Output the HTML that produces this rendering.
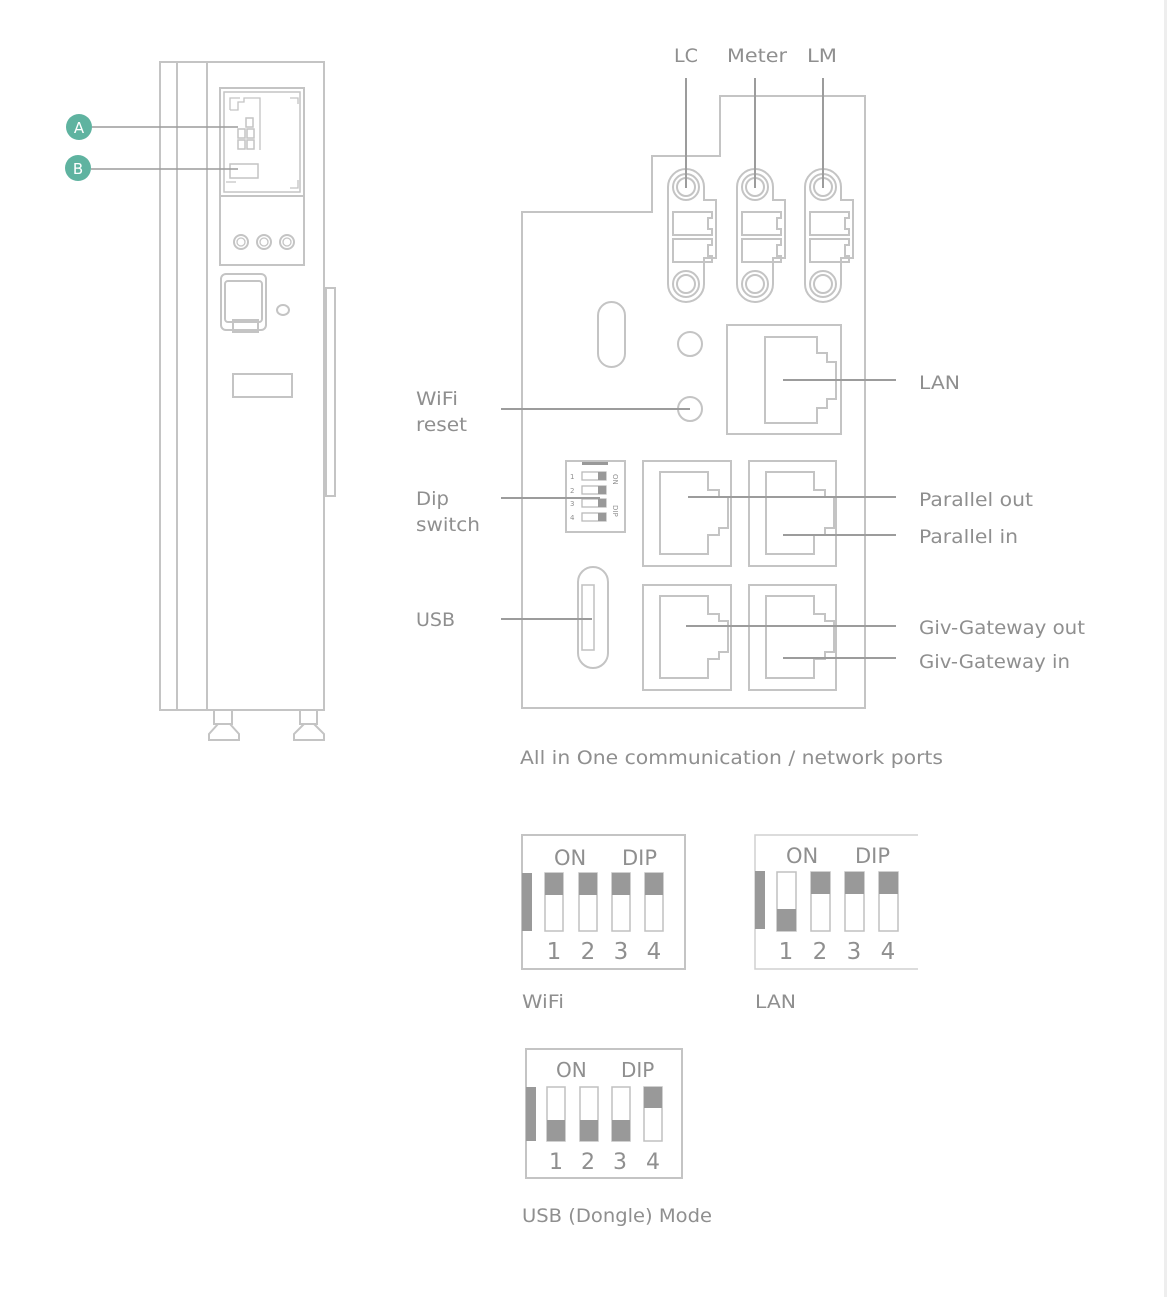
<!DOCTYPE html>
<html><head><meta charset="utf-8"><style>
html,body{margin:0;padding:0;background:#fff}
svg{display:block}
text{font-family:"DejaVu Sans","Liberation Sans",sans-serif;fill:#8f8f8f}
</style></head><body>
<svg width="1167" height="1297" viewBox="0 0 1167 1297" xmlns="http://www.w3.org/2000/svg">
<rect x="1164" y="0" width="3" height="1297" fill="#eeeeee"/>
<defs>
<path id="rj" d="M0,0 H48 V18 H59 V25 H68 V56 H59 V63 H48 V82 H0 Z"/>
</defs>
<g fill="none" stroke="#c4c4c4" stroke-width="2">
<rect x="160" y="62" width="164" height="648"/>
<line x1="177" y1="62" x2="177" y2="710"/>
<line x1="207" y1="62" x2="207" y2="710"/>
<rect x="220" y="88" width="84" height="108"/>
<rect x="224" y="92" width="76" height="100" stroke-width="1.5"/>
<path d="M230,110 V98 H240 M230,110 H238 V102 H244 V98 H260 V150" stroke-width="1.3"/>
<rect x="246" y="118" width="7" height="9" stroke-width="1.5"/>
<rect x="238" y="129" width="7" height="9" stroke-width="1.5"/>
<rect x="247" y="129" width="7" height="9" stroke-width="1.5"/>
<rect x="238" y="140" width="7" height="9" stroke-width="1.5"/>
<rect x="247" y="140" width="7" height="9" stroke-width="1.5"/>
<rect x="230" y="164" width="28" height="14" stroke-width="1.5"/>
<path d="M290,98 H298 V104 M290,188 H298 V180 M226,182 H236" stroke-width="1.3"/>
<rect x="220" y="196" width="84" height="69"/>
<circle cx="241" cy="242" r="7"/><circle cx="241" cy="242" r="4" stroke-width="1.3"/>
<circle cx="264" cy="242" r="7"/><circle cx="264" cy="242" r="4" stroke-width="1.3"/>
<circle cx="287" cy="242" r="7"/><circle cx="287" cy="242" r="4" stroke-width="1.3"/>
<rect x="221" y="274" width="45" height="56" rx="5"/>
<rect x="225" y="281" width="37" height="41" rx="3"/>
<rect x="233" y="320" width="25" height="12"/>
<ellipse cx="283" cy="310" rx="6" ry="5"/>
<rect x="233" y="374" width="59" height="23"/>
<rect x="326" y="288" width="9" height="208"/>
<path d="M214,710 V724 H232 V710 M218,724 L209,734 V740 H239 V734 L230,724"/>
<path d="M300,710 V724 H317 V710 M304,724 L294,734 V740 H324 V734 L314,724"/>
<path d="M522,212 H652 V156 H720 V96 H865 V708 H522 Z"/>
</g>
<g fill="none" stroke="#c4c4c4" stroke-width="2">
<g id="tb">
<path d="M668,187 A18,18 0 0 1 704,187 V200 H716 V258 H704 V284 A18,18 0 0 1 668,284 Z"/>
<circle cx="686" cy="187" r="13"/><circle cx="686" cy="187" r="9"/>
<circle cx="686" cy="284" r="13"/><circle cx="686" cy="284" r="9"/>
<path d="M673,212 H712 V218 H708 V229 H712 V235 H673 Z"/>
<path d="M673,239 H712 V245 H708 V256 H712 V262 H673 Z"/>
</g>
<use href="#tb" transform="translate(69,0)"/>
<use href="#tb" transform="translate(137,0)"/>
<rect x="598" y="302" width="27" height="65" rx="13.5"/>
<circle cx="690" cy="344" r="12"/>
<circle cx="690" cy="409" r="12"/>
<rect x="727" y="325" width="114" height="109"/>
<path d="M765,337 H817 V353 H827 V362 H836 V399 H827 V408 H817 V423 H765 Z"/>
<rect x="566" y="461" width="59" height="71"/>
<rect x="643" y="461" width="88" height="105"/>
<rect x="749" y="461" width="87" height="105"/>
<rect x="643" y="585" width="88" height="105"/>
<rect x="749" y="585" width="87" height="105"/>
<use href="#rj" x="660" y="472"/>
<use href="#rj" x="766" y="472"/>
<use href="#rj" x="660" y="596"/>
<use href="#rj" x="766" y="596"/>
<rect x="578" y="567" width="30" height="101" rx="15"/>
<rect x="582" y="585" width="12" height="65" stroke-width="1.6"/>
</g>
<g stroke="#bbb" stroke-width="1.3" fill="none">
<rect x="582" y="472" width="24" height="8"/><rect x="582" y="486" width="24" height="8"/>
<rect x="582" y="499" width="24" height="8"/><rect x="582" y="513" width="24" height="8"/>
</g>
<g fill="#999">
<rect x="582" y="462" width="26" height="3"/>
<rect x="598" y="472" width="8" height="8"/><rect x="598" y="486" width="8" height="8"/>
<rect x="598" y="499" width="8" height="8"/><rect x="598" y="513" width="8" height="8"/>
</g>
<g>
<text x="570" y="479" style="font-size:7px">1</text><text x="570" y="493" style="font-size:7px">2</text>
<text x="570" y="506" style="font-size:7px">3</text><text x="570" y="520" style="font-size:7px">4</text>
<text x="613" y="474" transform="rotate(90 613 474)" style="font-size:7px">ON</text>
<text x="613" y="505" transform="rotate(90 613 505)" style="font-size:7px">DIP</text>
</g>
<g stroke="#9c9c9c" stroke-width="2">
<line x1="92" y1="127" x2="238" y2="127" stroke-width="1.5"/>
<line x1="91" y1="169" x2="238" y2="169" stroke-width="1.5"/>
<line x1="686" y1="78" x2="686" y2="188"/>
<line x1="755" y1="78" x2="755" y2="188"/>
<line x1="823" y1="78" x2="823" y2="188"/>
<line x1="783" y1="380" x2="896" y2="380"/>
<line x1="501" y1="409" x2="690" y2="409"/>
<line x1="501" y1="498" x2="600" y2="498"/>
<line x1="688" y1="497" x2="896" y2="497"/>
<line x1="783" y1="535" x2="896" y2="535"/>
<line x1="501" y1="619" x2="592" y2="619"/>
<line x1="686" y1="626" x2="896" y2="626"/>
<line x1="783" y1="658" x2="896" y2="658"/>
</g>
<circle cx="79" cy="127" r="13" fill="#5fb3a0"/>
<circle cx="78" cy="168" r="13" fill="#5fb3a0"/>
<text x="79" y="133" text-anchor="middle" style="fill:#fff;font-size:15px">A</text>
<text x="78" y="174" text-anchor="middle" style="fill:#fff;font-size:15px">B</text>
<g style="font-size:19px">
<text x="674" y="62" style="font-size:19px" textLength="24" lengthAdjust="spacingAndGlyphs">LC</text>
<text x="727" y="62" style="font-size:19px" textLength="60" lengthAdjust="spacingAndGlyphs">Meter</text>
<text x="807" y="62" style="font-size:19px" textLength="30" lengthAdjust="spacingAndGlyphs">LM</text>
<text x="416" y="405" style="font-size:19px" textLength="42" lengthAdjust="spacingAndGlyphs">WiFi</text>
<text x="416" y="431" style="font-size:19px" textLength="51" lengthAdjust="spacingAndGlyphs">reset</text>
<text x="416" y="505" style="font-size:19px" textLength="33" lengthAdjust="spacingAndGlyphs">Dip</text>
<text x="416" y="531" style="font-size:19px" textLength="64" lengthAdjust="spacingAndGlyphs">switch</text>
<text x="416" y="626" style="font-size:19px" textLength="39" lengthAdjust="spacingAndGlyphs">USB</text>
<text x="919" y="389" style="font-size:19px" textLength="41" lengthAdjust="spacingAndGlyphs">LAN</text>
<text x="919" y="506" style="font-size:19px" textLength="114" lengthAdjust="spacingAndGlyphs">Parallel out</text>
<text x="919" y="543" style="font-size:19px" textLength="99" lengthAdjust="spacingAndGlyphs">Parallel in</text>
<text x="919" y="634" style="font-size:19px" textLength="166" lengthAdjust="spacingAndGlyphs">Giv-Gateway out</text>
<text x="919" y="668" style="font-size:19px" textLength="151" lengthAdjust="spacingAndGlyphs">Giv-Gateway in</text>
<text x="520" y="764" style="font-size:19px" textLength="423" lengthAdjust="spacingAndGlyphs">All in One communication / network ports</text>
<text x="522" y="1008" style="font-size:19px" textLength="42" lengthAdjust="spacingAndGlyphs">WiFi</text>
<text x="755" y="1008" style="font-size:19px" textLength="41" lengthAdjust="spacingAndGlyphs">LAN</text>
<text x="522" y="1222" style="font-size:19px" textLength="190" lengthAdjust="spacingAndGlyphs">USB (Dongle) Mode</text>
</g>
<g>
<rect x="522" y="835" width="163" height="134" fill="none" stroke="#c4c4c4" stroke-width="2"/>
<rect x="522" y="873" width="10" height="58" fill="#999"/>
<g fill="#fff" stroke="#c0c0c0" stroke-width="1.5">
<rect x="545" y="873" width="18" height="58"/><rect x="579" y="873" width="18" height="58"/>
<rect x="612" y="873" width="18" height="58"/><rect x="645" y="873" width="18" height="58"/>
</g>
<g fill="#999">
<rect x="545" y="873" width="18" height="22"/><rect x="579" y="873" width="18" height="22"/>
<rect x="612" y="873" width="18" height="22"/><rect x="645" y="873" width="18" height="22"/>
</g>
<text x="554" y="865" style="font-size:21px">ON</text>
<text x="622" y="865" style="font-size:21px">DIP</text>
<text x="554" y="959" style="font-size:23px" text-anchor="middle">1</text><text x="588" y="959" style="font-size:23px" text-anchor="middle">2</text>
<text x="621" y="959" style="font-size:23px" text-anchor="middle">3</text><text x="654" y="959" style="font-size:23px" text-anchor="middle">4</text>
</g>
<g>
<path d="M918,835 H755 V969 H918" fill="none" stroke="#d0d0d0" stroke-width="1.5"/>
<rect x="755" y="871" width="10" height="58" fill="#999"/>
<g fill="#fff" stroke="#c0c0c0" stroke-width="1.5">
<rect x="777" y="872" width="19" height="59"/><rect x="811" y="872" width="19" height="59"/>
<rect x="845" y="872" width="19" height="59"/><rect x="879" y="872" width="19" height="59"/>
</g>
<g fill="#999">
<rect x="777" y="909" width="19" height="22"/><rect x="811" y="872" width="19" height="22"/>
<rect x="845" y="872" width="19" height="22"/><rect x="879" y="872" width="19" height="22"/>
</g>
<text x="786" y="863" style="font-size:21px">ON</text>
<text x="855" y="863" style="font-size:21px">DIP</text>
<text x="786" y="959" style="font-size:23px" text-anchor="middle">1</text><text x="820" y="959" style="font-size:23px" text-anchor="middle">2</text>
<text x="854" y="959" style="font-size:23px" text-anchor="middle">3</text><text x="888" y="959" style="font-size:23px" text-anchor="middle">4</text>
</g>
<g>
<rect x="526" y="1049" width="156" height="129" fill="none" stroke="#c4c4c4" stroke-width="2"/>
<rect x="526" y="1087" width="10" height="54" fill="#999"/>
<g fill="#fff" stroke="#c0c0c0" stroke-width="1.5">
<rect x="547" y="1087" width="18" height="54"/><rect x="580" y="1087" width="18" height="54"/>
<rect x="612" y="1087" width="18" height="54"/><rect x="644" y="1087" width="18" height="54"/>
</g>
<g fill="#999">
<rect x="547" y="1120" width="18" height="21"/><rect x="580" y="1120" width="18" height="21"/>
<rect x="612" y="1120" width="18" height="21"/><rect x="644" y="1087" width="18" height="21"/>
</g>
<text x="556" y="1077" style="font-size:20px">ON</text>
<text x="621" y="1077" style="font-size:20px">DIP</text>
<text x="556" y="1169" style="font-size:22px" text-anchor="middle">1</text><text x="588" y="1169" style="font-size:22px" text-anchor="middle">2</text>
<text x="620" y="1169" style="font-size:22px" text-anchor="middle">3</text><text x="653" y="1169" style="font-size:22px" text-anchor="middle">4</text>
</g>
</svg>
</body></html>
